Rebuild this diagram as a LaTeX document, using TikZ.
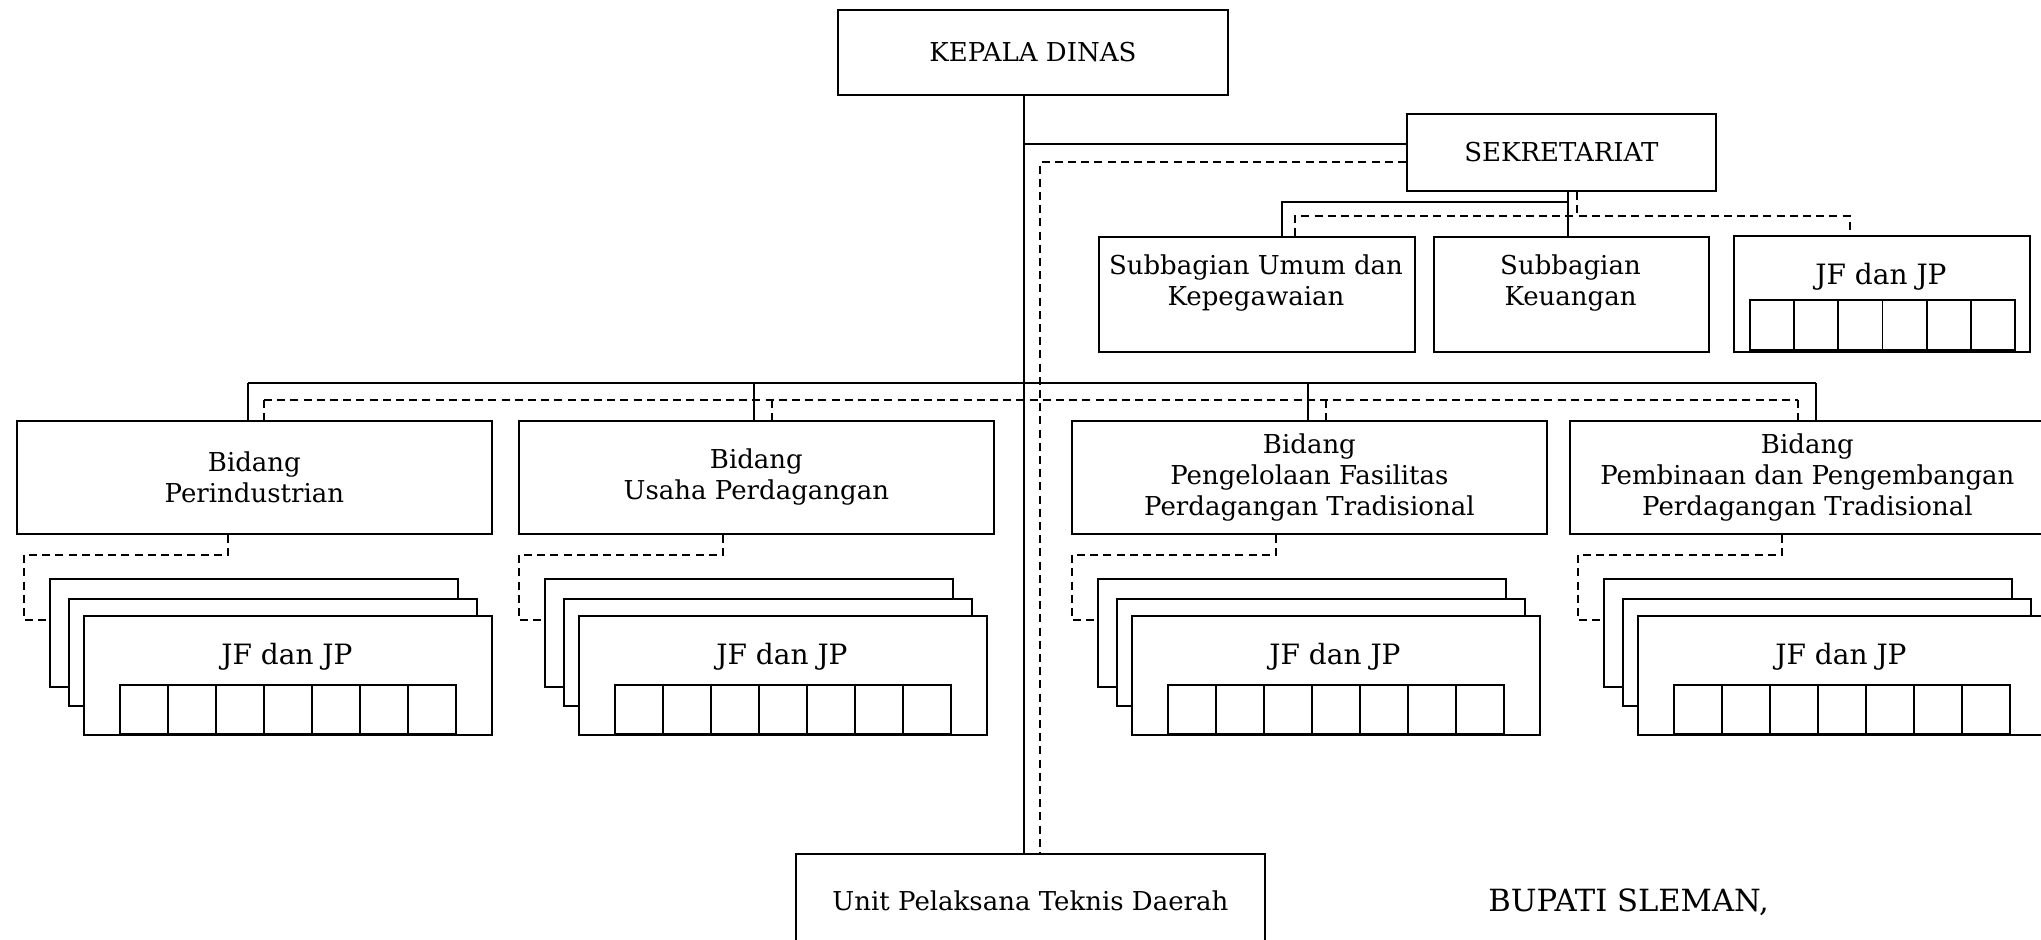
\documentclass[tikz,border=0pt]{standalone}
\usepackage{fontspec}
\setmainfont{DejaVu Serif}

\tikzset{
  box/.style={draw, line width=0.9pt, fill=white, anchor=north west, inner sep=0pt, align=center},
  txt/.style={align=center, inner sep=0pt},
  cell/.style={draw, line width=0.9pt, anchor=north west, inner sep=0pt, minimum width=24pt, minimum height=24.5pt},
  ln/.style={line width=0.7pt},
  dsh/.style={line width=0.8pt, dash pattern=on 4pt off 2.6pt},
}
\newcommand{\orgfont}{\fontsize{13}{15.5}\selectfont}

\begin{document}
\begin{tikzpicture}[x=0.5pt,y=-0.5pt,font=\orgfont]
\useasboundingbox (0,0) rectangle (2041,939);

% Kepala Dinas, Sekretariat, UPTD
\node[box, minimum width=195pt, minimum height=42.5pt] (kd) at (837,9) {KEPALA DINAS};
\node[box, minimum width=154.5pt, minimum height=38.5pt] (sek) at (1406,113) {SEKRETARIAT};
\node[box, minimum width=234.5pt, minimum height=47pt] (upt) at (795,853) {Unit Pelaksana Teknis Daerah};

% Subbagian
\node[box, minimum width=158pt, minimum height=57.5pt] (sbu) at (1098,236) {};
\node[txt] (sbut) at (1256,283) {Subbagian Umum dan\\Kepegawaian};
\node[box, minimum width=137.5pt, minimum height=57.5pt] (sbk) at (1433,236) {};
\node[txt] (sbkt) at (1570.5,283) {Subbagian\\Keuangan};
\node[box, minimum width=148pt, minimum height=58pt] (jfs) at (1733,235) {};
\node[txt, font=\fontsize{14}{16}\selectfont] (jfst) at (1881,277) {JF dan JP};
\foreach \k in {0,...,5}
  \node[cell, minimum width=22.1pt, minimum height=25pt] (jfsc\k) at (1749+\k*44.17,299) {};

% Bidang
\foreach \i/\L/\t in {1/16/{Bidang\\Perindustrian}, 2/518/{Bidang\\Usaha Perdagangan},
    3/1071/{Bidang\\Pengelolaan Fasilitas\\Perdagangan Tradisional},
    4/1569/{Bidang\\Pembinaan dan Pengembangan\\Perdagangan Tradisional}}
  \node[box, minimum width=237.5pt, minimum height=56.5pt] (b\i) at (\L,420) {\t};

% JF dan JP tiap bidang
\foreach \i/\bx in {1/49, 2/544, 3/1097, 4/1603} {
  \node[box, minimum width=204pt, minimum height=54pt] (jfa\i) at (\bx,578) {};
  \node[box, minimum width=204pt, minimum height=53.5pt] (jfb\i) at (\bx+19,598) {};
  \node[box, minimum width=204pt, minimum height=59.5pt] (jfc\i) at (\bx+34,615) {};
  \node[txt, font=\fontsize{14}{16}\selectfont] (jfx\i) at (\bx+238,657) {JF dan JP};
  \foreach \k in {0,...,6}
    \node[cell] (c\i-\k) at (\bx+70+\k*48,684) {};
  \coordinate (dx\i) at (\bx+179,555);
  \coordinate (dl\i) at (\bx-25,620);
  \draw[dsh] (b\i.south -| dx\i) -- (dx\i) -| (dl\i) -- (dl\i -| jfa\i.west);
}

% garis komando
\coordinate (tr) at (1024,144);
\coordinate (td) at (1040,162);
\draw[ln] (kd.south -| tr) -- (upt.north -| tr);
\draw[ln] (tr) -- (tr -| sek.west);
\draw[dsh] (td -| sek.west) -- (td) -- (upt.north -| td);

% ke subbagian
\coordinate (sa) at (1568,202);
\coordinate (sb) at (1282,202);
\draw[ln] (sek.south -| sa) -- (sa) -- (sb) -- (sb |- sbu.north);
\draw[ln] (sa) -- (sa |- sbk.north);
\coordinate (sc) at (1577,216);
\coordinate (sd) at (1295,216);
\coordinate (se) at (1850,216);
\draw[dsh] (sek.south -| sc) -- (sc);
\draw[dsh] (sd |- sbu.north) -- (sd) -- (se) -- (se |- jfs.north);

% ke bidang
\foreach \i/\sx/\dx in {1/248/264, 2/754/772, 3/1308/1326, 4/1816/1798} {
  \coordinate (s\i) at (\sx,383);
  \coordinate (q\i) at (\dx,400);
  \draw[ln] (s\i) -- (s\i |- b\i.north);
  \draw[dsh] (q\i) -- (q\i |- b\i.north);
}
\draw[ln] (s1) -- (s4);
\draw[dsh] (q1) -- (q4);

\node[anchor=base west, inner sep=0pt, font=\fontsize{15.3}{18}\selectfont] (bup) at (1488,911) {BUPATI SLEMAN,};
\end{tikzpicture}
\end{document}
